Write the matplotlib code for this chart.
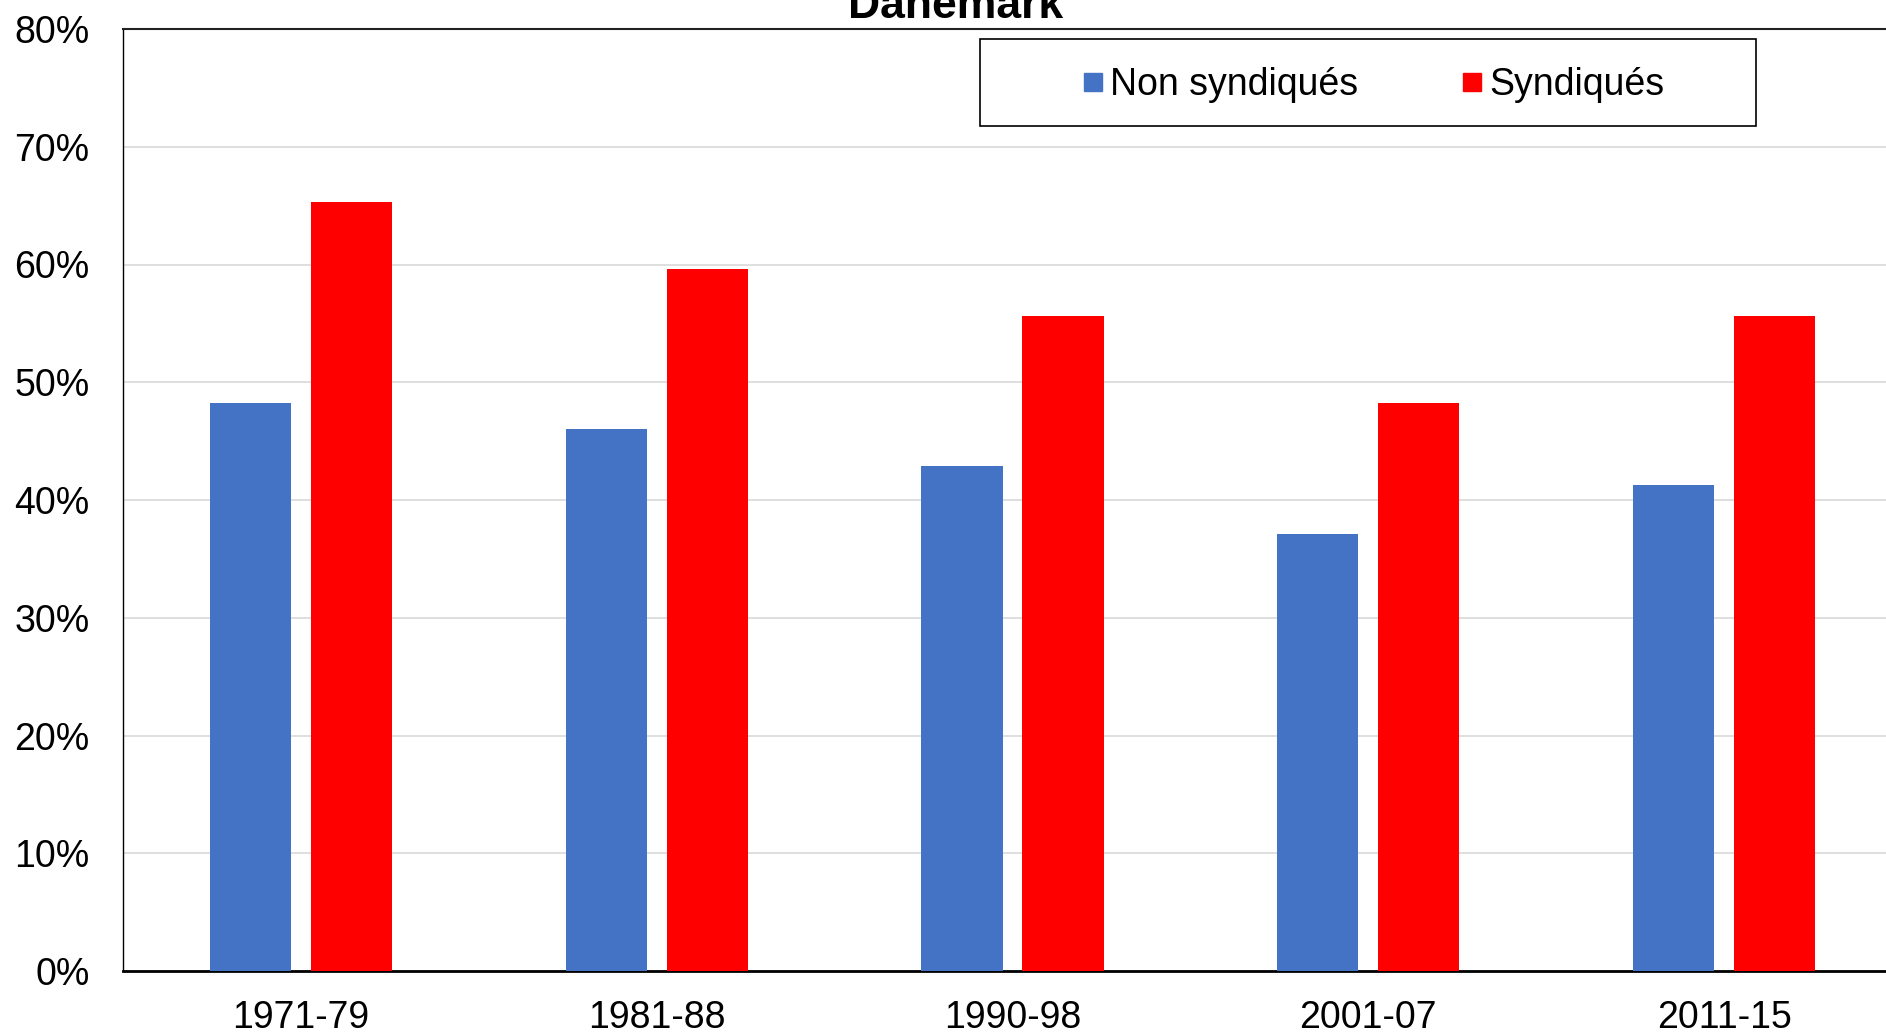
import matplotlib
matplotlib.use("Agg")
import matplotlib.pyplot as plt
from matplotlib.lines import Line2D
from matplotlib.patches import Rectangle
from matplotlib.ticker import PercentFormatter
import numpy as np

periods = ["1971-79", "1981-88", "1990-98", "2001-07", "2011-15"]
non_syndiques = [48.2, 46.0, 42.9, 37.1, 41.3]
syndiques = [65.3, 59.6, 55.6, 48.2, 55.6]

plt.rcParams["font.family"] = ["Liberation Sans", "DejaVu Sans"]

W, H = 1886, 1032
fig = plt.figure(figsize=(W / 100, H / 100), dpi=100)
# the plot area runs a little past the right edge of the picture
ax = fig.add_axes([123 / W, 61 / H, 1779 / W, 942 / H])

x = np.arange(len(periods))
bw = 0.228
off = 0.142
ax.bar(x - off, non_syndiques, bw, color="#4472C4", zorder=3)
ax.bar(x + off, syndiques, bw, color="#FF0000", zorder=3)

ax.set_xlim(-0.5, 4.5)
ax.set_ylim(0, 80)
ax.set_yticks(range(0, 81, 10))
ax.yaxis.set_major_formatter(PercentFormatter(decimals=0))
ax.set_xticks(x)
ax.set_xticklabels(periods)
ax.tick_params(axis="both", length=0, labelsize=27)
ax.tick_params(axis="y", pad=24)
ax.tick_params(axis="x", pad=21)
ax.grid(axis="y", color="#d9d9d9", linewidth=1.2, zorder=0)

ax.spines["right"].set_visible(False)
ax.spines["left"].set_linewidth(1.0)
ax.spines["top"].set_linewidth(1.5)
ax.spines["top"].set_color("#222222")
ax.spines["bottom"].set_linewidth(2.0)

fig.text(956 / W, 1 - 18 / H, "Danemark", ha="center", va="baseline",
         fontsize=32, fontweight="bold")

# legend frame drawn by hand, entries placed inside it
fig.patches.append(Rectangle((980 / W, 1 - 126 / H), 776 / W, 87 / H,
                             transform=fig.transFigure, fill=False,
                             edgecolor="black", linewidth=1.2, zorder=5))
handles = [
    Line2D([], [], linestyle="none", marker="s", markersize=13,
           color="#4472C4", label="Non syndiqués"),
    Line2D([], [], linestyle="none", marker="s", markersize=13,
           color="#FF0000", label="Syndiqués"),
]
fig.legend(handles=handles, loc="center", bbox_to_anchor=(1374 / W, 1 - 85 / H),
           ncol=2, frameon=False, fontsize=27, handlelength=0.5,
           handletextpad=0.2, columnspacing=2.8, borderpad=0)

fig.savefig("out.png", dpi=100)
